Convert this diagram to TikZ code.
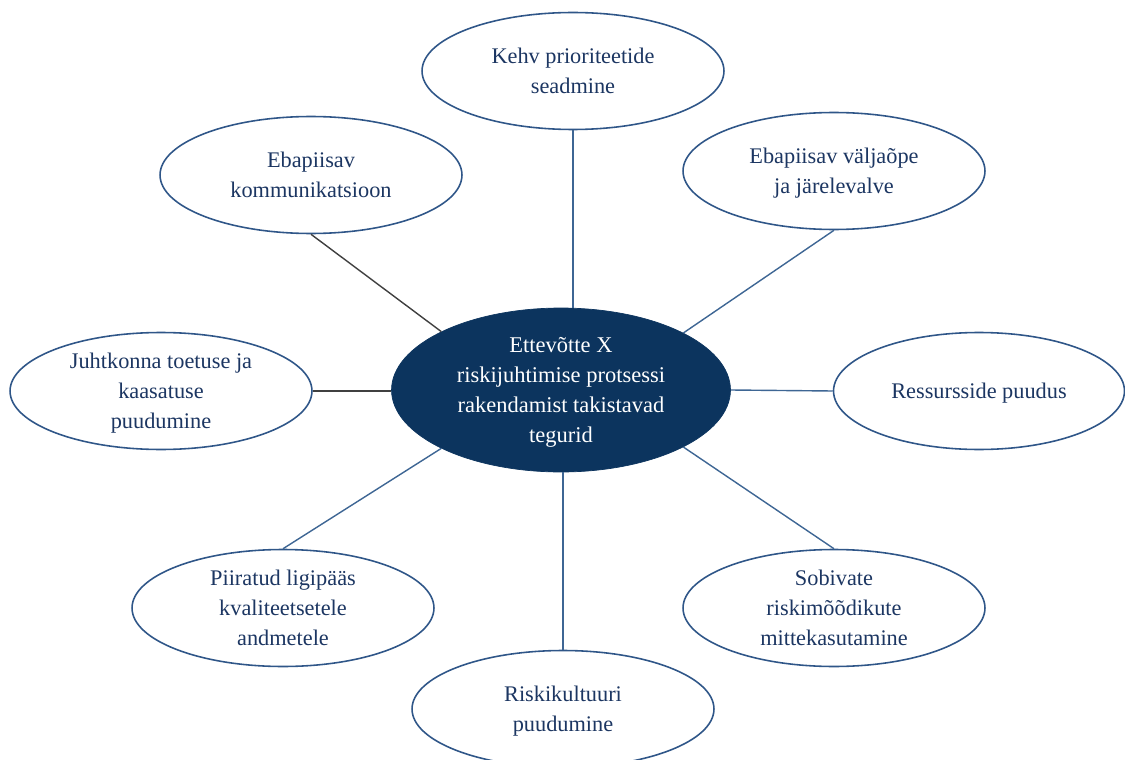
\documentclass[tikz,border=0pt]{standalone}
\usepackage{fontspec}
\setmainfont{Liberation Serif}
\usepackage{tikz}
\usetikzlibrary{shapes.geometric}
\definecolor{corefill}{RGB}{12,52,94}
\definecolor{ringcolor}{RGB}{47,86,136}
\definecolor{labelcolor}{RGB}{28,54,98}
\definecolor{linkcolor}{RGB}{62,102,148}

\begin{document}
\begin{tikzpicture}[x=0.02cm, y=-0.02cm,
    factor/.style={ellipse, draw=ringcolor, line width=0.9pt, fill=white,
      inner sep=0pt, minimum width=6.04cm, minimum height=2.34cm, text depth=0pt,
      align=center, text=labelcolor, font=\fontsize{12.7}{17}\selectfont},
    core/.style={ellipse, draw=corefill, fill=corefill, inner sep=0pt,
      minimum width=6.78cm, minimum height=3.28cm, text depth=0pt,
      align=center, text=white, font=\fontsize{12.8}{17.2}\selectfont},
    link/.style={linkcolor, line width=0.8pt},
    darklink/.style={black!75, line width=0.8pt}]
    \useasboundingbox (0,0) rectangle (1125,760);
    % --- centre ---
    \node[core] (ett) at (561,390)
      {Ettevõtte X\\riskijuhtimise protsessi\\rakendamist takistavad\\tegurid};
    % --- factors round it ---
    \node[factor] (kehv) at (573,71) {Kehv prioriteetide\\seadmine};
    \node[factor] (kom) at (311,175) {Ebapiisav\\kommunikatsioon};
    \node[factor] (valj) at (834,171) {Ebapiisav väljaõpe\\ja järelevalve};
    \node[factor] (juht) at (161,391) {Juhtkonna toetuse ja\\kaasatuse\\puudumine};
    \node[factor, minimum width=5.82cm] (ress) at (979,391) {Ressursside puudus};
    \node[factor] (piir) at (283,608) {Piiratud ligipääs\\kvaliteetsetele\\andmetele};
    \node[factor] (sob) at (834,608) {Sobivate\\riskimõõdikute\\mittekasutamine};
    \node[factor] (risk) at (563,709) {Riskikultuuri\\puudumine};
    % --- spokes ---
    \draw[link] (kehv.south) -- (kehv.south |- ett.north);
    \draw[darklink] (kom.south) -- (ett.154);
    \draw[link] (valj.south) -- (ett.25);
    \draw[darklink] (juht.east) -- (juht.east -| ett.west);
    \draw[link] (ett.east) -- (ress.west);
    \draw[link] (ett.206) -- (piir.north);
    \draw[link] (risk.north |- ett.south) -- (risk.north);
    \draw[link] (ett.335) -- (sob.north);
\end{tikzpicture}
\end{document}
